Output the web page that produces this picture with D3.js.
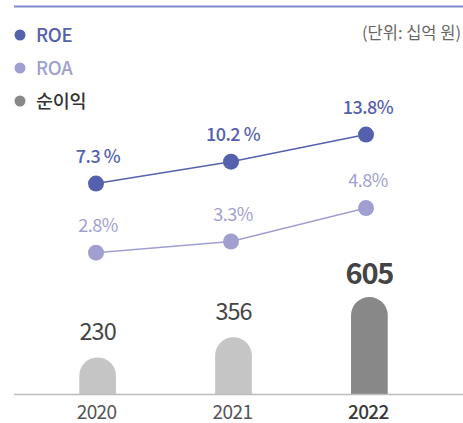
<!DOCTYPE html>
<html>
<head>
<meta charset="utf-8">
<script src="https://cdn.jsdelivr.net/npm/d3@7/dist/d3.min.js"></script>
<style>
  html, body { margin: 0; padding: 0; background: #fff; }
  svg { display: block; font-family: "Noto Sans CJK KR", "Noto Sans", sans-serif; }
</style>
</head>
<body>
<svg id="chart" width="463" height="423"></svg>
<script>
// Data
const years = ["2020", "2021", "2022"];
const netIncome = [230, 356, 605];     // 순이익 (십억 원)
const roe = [7.3, 10.2, 13.8];          // ROE (%)
const roa = [2.8, 3.3, 4.8];            // ROA (%)
const roeLabels = ["7.3 %", "10.2 %", "13.8%"];
const roaLabels = ["2.8%", "3.3%", "4.8%"];
const legendItems = ["ROE", "ROA", "순이익"];
const unitText = "(단위: 십억 원)";

const C = {
  roe: "#5661ad",
  roa: "#a09fd0",
  bar: "#c4c5c4",
  barHi: "#888888",
  rule: "#8089c9",
  axis: "#bdbdbd",
  text: "#444444"
};

const svg = d3.select("#chart");

// Top rule
svg.append("line")
  .attr("x1", 14).attr("x2", 463).attr("y1", 6.5).attr("y2", 6.5)
  .attr("stroke", C.rule).attr("stroke-width", 2);

// Unit note
svg.append("text")
  .attr("x", 461).attr("y", 39)
  .attr("text-anchor", "end")
  .attr("font-size", 16.5).attr("fill", "#666")
  .text(unitText);

// Legend
const legendColors = [C.roe, C.roa, C.barHi];
const legendText = [C.roe, C.roa, "#333"];
const legendY = d3.scalePoint().domain(legendItems).range([35, 101]);
const lg = svg.append("g").selectAll("g").data(legendItems).join("g")
  .attr("transform", d => `translate(0,${legendY(d)})`);
lg.append("circle").attr("cx", 20).attr("r", 5.5)
  .attr("fill", (d, i) => legendColors[i]);
lg.append("text").attr("x", 36).attr("y", 6.5)
  .attr("font-size", 18.5).attr("font-weight", 500)
  .attr("letter-spacing", "-0.3")
  .attr("fill", (d, i) => legendText[i])
  .text(d => d);

// Bars: net income
const x = d3.scaleBand().domain(years).range([29, 438]).paddingInner(0.73).paddingOuter(0.37);
const baseY = 394.5;
const yBar = d3.scaleLinear().domain([0, 605]).range([baseY, 297]);
const bw = x.bandwidth();

function barPath(x0, top, w, bottom) {
  const r = w / 2;
  return `M${x0},${bottom} L${x0},${top + r} A${r},${r} 0 0 1 ${x0 + w},${top + r} L${x0 + w},${bottom} Z`;
}

const bars = svg.append("g");
years.forEach((yr, i) => {
  const hi = i === years.length - 1;
  const top = yBar(netIncome[i]);
  bars.append("path")
    .attr("d", barPath(x(yr), top, bw, baseY))
    .attr("fill", hi ? C.barHi : C.bar);
  bars.append("text")
    .attr("x", x(yr) + bw / 2)
    .attr("y", top - (hi ? 13 : 17.5))
    .attr("text-anchor", "middle")
    .attr("font-size", hi ? 29 : 23.5)
    .attr("font-weight", hi ? 700 : 400)
    .attr("letter-spacing", hi ? "-1.2" : "-1")
    .attr("fill", C.text)
    .text(d3.format(",")(netIncome[i]));
});

// Baseline axis
svg.append("line")
  .attr("x1", 14).attr("x2", 463).attr("y1", baseY).attr("y2", baseY)
  .attr("stroke", C.axis).attr("stroke-width", 1.5);

// Year labels
svg.append("g").selectAll("text").data(years).join("text")
  .attr("x", d => x(d) + bw / 2 - 1)
  .attr("y", 419)
  .attr("text-anchor", "middle")
  .attr("font-size", 19)
  .attr("letter-spacing", "-0.6")
  .attr("font-weight", (d, i) => i === years.length - 1 ? 500 : 400)
  .attr("fill", (d, i) => i === years.length - 1 ? "#3a3a3a" : "#555")
  .text(d => d);

// Lines: ROE and ROA
const xp = d3.scalePoint().domain(years).range([96, 366]);
const yRoe = d3.scaleLinear().domain([0, 20]).range([238.6, 87.8]);
const yRoa = d3.scaleLinear().domain([0, 5]).range([315.1, 203.6]);

function drawSeries(vals, yScale, color, labels, weight) {
  const g = svg.append("g");
  g.append("path")
    .datum(vals)
    .attr("fill", "none")
    .attr("stroke", color)
    .attr("stroke-width", 1.5)
    .attr("d", d3.line().x((d, i) => xp(years[i])).y(d => yScale(d)));
  g.selectAll("circle").data(vals).join("circle")
    .attr("cx", (d, i) => xp(years[i]))
    .attr("cy", d => yScale(d))
    .attr("r", 8)
    .attr("fill", color);
  g.selectAll("text").data(vals).join("text")
    .attr("x", (d, i) => xp(years[i]) + 2)
    .attr("y", d => yScale(d) - 21)
    .attr("text-anchor", "middle")
    .attr("font-size", 18)
    .attr("font-weight", weight)
    .attr("letter-spacing", "-0.5")
    .attr("fill", color)
    .text((d, i) => labels[i]);
}

drawSeries(roa, yRoa, C.roa, roaLabels, 400);
drawSeries(roe, yRoe, C.roe, roeLabels, 500);
</script>
</body>
</html>
